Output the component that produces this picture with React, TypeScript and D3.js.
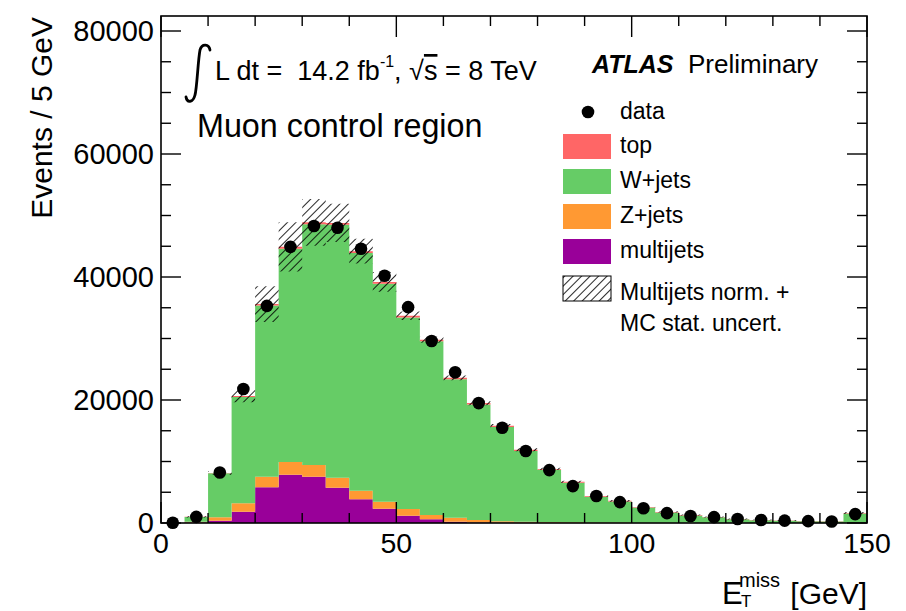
import React from 'react';
import * as d3 from 'd3';

// ---- data (5 GeV bins, E_T^miss) ----
const binLow = [0, 5, 10, 15, 20, 25, 30, 35, 40, 45, 50, 55, 60, 65, 70, 75, 80, 85, 90, 95, 100, 105, 110, 115, 120, 125, 130, 135, 140, 145];
const binWidth = 5;
const dataCounts = [30, 1000, 8200, 21800, 35300, 44900, 48300, 48000, 44600, 40200, 35100, 29600, 24500, 19500, 15500, 11700, 8600, 6000, 4400, 3400, 2400, 1600, 1150, 950, 650, 500, 380, 300, 250, 1450];
const multijets = [0, 100, 380, 1840, 5800, 7860, 7530, 5750, 3850, 2330, 1190, 600, 220, 100, 60, 40, 30, 20, 15, 10, 8, 6, 5, 4, 3, 3, 2, 2, 2, 5];
const zjets = [0, 100, 540, 1360, 1730, 2060, 1900, 1620, 1410, 1140, 1090, 700, 650, 390, 220, 160, 120, 90, 70, 55, 45, 35, 28, 22, 18, 15, 12, 10, 9, 25];
const wjets = [0, 795, 7160, 17300, 27820, 34680, 39150, 41110, 38640, 35440, 31140, 28240, 22490, 18790, 15320, 11520, 8490, 6450, 4195, 3430, 2457, 1679, 1197, 894, 579, 437, 346, 273, 239, 1520];
const topQuark = [0, 5, 50, 150, 250, 300, 320, 320, 300, 290, 280, 260, 240, 220, 200, 180, 160, 140, 120, 105, 90, 80, 70, 60, 50, 45, 40, 35, 30, 80];
const uncert = [0, 100, 300, 1000, 2900, 4000, 3800, 3100, 2000, 1600, 700, 500, 400, 350, 300, 250, 200, 180, 150, 130, 110, 100, 90, 80, 70, 60, 55, 50, 45, 150];

const xMajorTicks = [0, 50, 100, 150];
const yMajorTicks = [0, 20000, 40000, 60000, 80000];
const stackKeys = ['multijets', 'zjets', 'wjets', 'top'];
const stackColors: Record<string, string> = {
  top: '#ff6666',
  wjets: '#66cc66',
  zjets: '#ff9933',
  multijets: '#990099',
};
const legendEntries = [
  { key: 'top', label: 'top' },
  { key: 'wjets', label: 'W+jets' },
  { key: 'zjets', label: 'Z+jets' },
  { key: 'multijets', label: 'multijets' },
];

const W = 906;
const H = 611;
const PL = 161, PR = 867, PT = 16, PB = 523;
const FONT = '"Liberation Sans", Arial, Helvetica, sans-serif';

export default function App() {
  const x = d3.scaleLinear().domain([0, 150]).range([PL, PR]);
  const y = d3.scaleLinear().domain([0, 82440]).range([PB, PT]);

  const rows = binLow.map((lo, i) => ({
    lo,
    multijets: multijets[i],
    zjets: zjets[i],
    wjets: wjets[i],
    top: topQuark[i],
  }));
  const series = d3.stack<any>().keys(stackKeys)(rows);

  type P = { x: number; y0: number; y1: number };
  const area = d3
    .area<P>()
    .x((d) => x(d.x))
    .y0((d) => y(d.y0))
    .y1((d) => y(d.y1));

  const layerPaths = series.map((s) => {
    const pts: P[] = [];
    s.forEach((d, i) => {
      pts.push({ x: binLow[i], y0: d[0], y1: d[1] });
      pts.push({ x: binLow[i] + binWidth, y0: d[0], y1: d[1] });
    });
    return { key: s.key, d: area(pts) || '' };
  });

  const bandPts: P[] = [];
  rows.forEach((r, i) => {
    const tot = r.multijets + r.zjets + r.wjets + r.top;
    const lo = Math.max(0, tot - uncert[i]);
    const hi = tot + uncert[i];
    bandPts.push({ x: binLow[i], y0: lo, y1: hi });
    bandPts.push({ x: binLow[i] + binWidth, y0: lo, y1: hi });
  });
  const bandPath = area(bandPts) || '';

  const xMinor = x.ticks(15).filter((t) => !xMajorTicks.includes(t));
  const yMinor = y.ticks(16).filter((t) => !yMajorTicks.includes(t) && t <= 82440);

  const legendY = [134, 169, 204, 239];
  const legendTextY = [153, 188, 223, 258];

  return (
    <svg
      width={W}
      height={H}
      viewBox={`0 0 ${W} ${H}`}
      style={{ position: 'absolute', left: 0, top: 0, background: '#fff' }}
      fontFamily={FONT}
    >
      <defs>
        <pattern id="hatch" patternUnits="userSpaceOnUse" width="6" height="6" patternTransform="rotate(45)">
          <line x1="0" y1="0" x2="0" y2="6" stroke="#000" strokeWidth="1.7" />
        </pattern>
        <clipPath id="plotClip">
          <rect x={PL} y={PT} width={PR - PL} height={PB - PT} />
        </clipPath>
      </defs>
      <rect x={0} y={0} width={W} height={H} fill="#fff" />

      <g clipPath="url(#plotClip)">
        {layerPaths.map((l) => (
          <path key={l.key} d={l.d} fill={stackColors[l.key]} stroke="none" />
        ))}
        <path d={bandPath} fill="url(#hatch)" stroke="none" />
      </g>

      {/* frame */}
      <rect x={PL} y={PT} width={PR - PL} height={PB - PT} fill="none" stroke="#000" strokeWidth={1.6} />

      {/* x ticks bottom & top */}
      {xMajorTicks.map((t) => (
        <g key={'xM' + t}>
          <line x1={x(t)} x2={x(t)} y1={PB} y2={PB - 21} stroke="#000" strokeWidth={1.4} />
          <line x1={x(t)} x2={x(t)} y1={PT} y2={PT + 21} stroke="#000" strokeWidth={1.4} />
          <text x={x(t)} y={553} fontSize={28.5} textAnchor="middle" fill="#000">
            {t}
          </text>
        </g>
      ))}
      {xMinor.map((t) => (
        <g key={'xm' + t}>
          <line x1={x(t)} x2={x(t)} y1={PB} y2={PB - 10} stroke="#000" strokeWidth={1.4} />
          <line x1={x(t)} x2={x(t)} y1={PT} y2={PT + 10} stroke="#000" strokeWidth={1.4} />
        </g>
      ))}

      {/* y ticks left & right */}
      {yMajorTicks.map((t) => (
        <g key={'yM' + t}>
          <line x1={PL} x2={PL + 20} y1={y(t)} y2={y(t)} stroke="#000" strokeWidth={1.4} />
          <line x1={PR} x2={PR - 20} y1={y(t)} y2={y(t)} stroke="#000" strokeWidth={1.4} />
          <text x={154} y={y(t)} dy="0.36em" fontSize={29} textAnchor="end" fill="#000">
            {t}
          </text>
        </g>
      ))}
      {yMinor.map((t) => (
        <g key={'ym' + t}>
          <line x1={PL} x2={PL + 10} y1={y(t)} y2={y(t)} stroke="#000" strokeWidth={1.4} />
          <line x1={PR} x2={PR - 10} y1={y(t)} y2={y(t)} stroke="#000" strokeWidth={1.4} />
        </g>
      ))}

      {/* data points (not clipped: first point sits on the axis) */}
      {dataCounts.map((v, i) => (
        <circle key={i} cx={x(binLow[i] + binWidth / 2)} cy={y(v)} r={6.3} fill="#000" />
      ))}

      {/* axis titles */}
      <text transform="translate(52,17) rotate(-90)" fontSize={30} textAnchor="end" fill="#000">
        Events / 5 GeV
      </text>
      <g fill="#000">
        <text x={722} y={604} fontSize={31}>E</text>
        <text x={741} y={607} fontSize={17}>T</text>
        <text x={739} y={587} fontSize={20}>miss</text>
        <text x={867} y={604} fontSize={30} textAnchor="end">[GeV]</text>
      </g>

      {/* header */}
      <path
        d="M210,50 C209,44 202,43 200,50 C198,60 197,88 195,95 C193,103 187,103 186,97"
        fill="none"
        stroke="#000"
        strokeWidth={2.8}
        strokeLinecap="round"
      />
      <text x={215} y={80} fontSize={27} fill="#000" style={{ whiteSpace: 'pre' }}>
        {'L dt =  14.2 fb'}
        <tspan dy={-13} fontSize={16}>{'-1'}</tspan>
        <tspan dy={13}>{', \u221A'}</tspan>
        <tspan style={{ textDecoration: 'overline' }}>s</tspan>
        <tspan>{' = 8 TeV'}</tspan>
      </text>
      <text x={197} y={137} fontSize={32.3} fill="#000">
        Muon control region
      </text>

      {/* ATLAS label */}
      <text x={592} y={73} fontSize={25} fontWeight="bold" fontStyle="italic" fill="#000">
        ATLAS
      </text>
      <text x={688} y={73} fontSize={26} fill="#000">
        Preliminary
      </text>

      {/* legend */}
      <circle cx={588} cy={112} r={6.3} fill="#000" />
      <text x={620} y={119} fontSize={23} fill="#000">data</text>
      {legendEntries.map((e, i) => (
        <g key={e.key}>
          <rect x={563} y={legendY[i]} width={48} height={25} fill={stackColors[e.key]} />
          <text x={620} y={legendTextY[i]} fontSize={23} fill="#000">
            {e.label}
          </text>
        </g>
      ))}
      <rect x={563} y={276} width={48} height={25} fill="url(#hatch)" stroke="#000" strokeWidth={1} />
      <text x={620} y={300} fontSize={23} fill="#000">Multijets norm. +</text>
      <text x={620} y={331} fontSize={23} fill="#000">MC stat. uncert.</text>
    </svg>
  );
}
